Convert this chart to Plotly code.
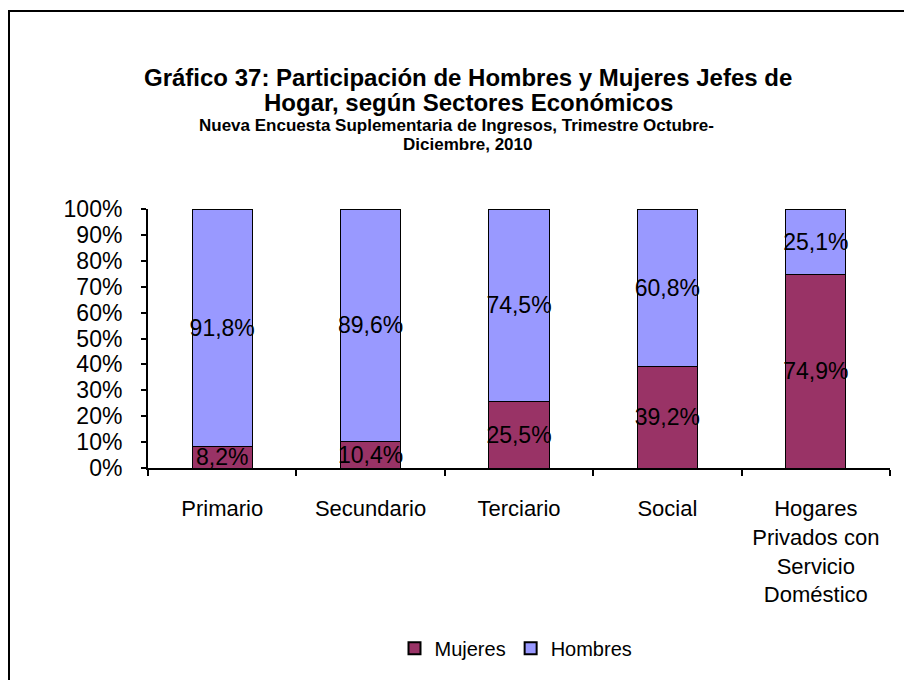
import plotly.graph_objects as go

# Economic sectors and share (%) of female / male heads of household
sectores = ["Primario", "Secundario", "Terciario", "Social",
            "Hogares<br>Privados con<br>Servicio<br>Doméstico"]
mujeres = [8.2, 10.4, 25.5, 39.2, 74.9]
hombres = [91.8, 89.6, 74.5, 60.8, 25.1]
y_ticks = list(range(0, 101, 10))
y_tick_labels = [f"{v}%" for v in y_ticks]

W, H = 904, 680
L, R, T, B = 148, 14, 209, 208
PW, PH = W - L - R, H - T - B

def px(x):
    return (x - L) / PW

def py(y):
    return (H - B - y) / PH

FONT = "Liberation Sans, Arial, sans-serif"

fig = go.Figure()
for name, vals, color in [("Mujeres", mujeres, "#993366"),
                          ("Hombres", hombres, "#9999FF")]:
    fig.add_trace(go.Bar(
        name=name, x=sectores, y=vals,
        marker=dict(color=color, line=dict(color="#000000", width=1)),
        text=vals, texttemplate="%{text:.1f}%",
        textposition="inside", insidetextanchor="middle", textangle=0,
        textfont=dict(family=FONT, size=23, color="#000000"),
        cliponaxis=False,
    ))

fig.update_layout(
    width=W, height=H,
    margin=dict(l=L, r=R, t=T, b=B),
    barmode="stack", bargap=0.595,
    separators=",.",
    paper_bgcolor="white", plot_bgcolor="white",
    font=dict(family=FONT, color="#000000"),
    uniformtext=dict(minsize=23, mode="show"),
    showlegend=True,
    legend=dict(orientation="h", x=px(516), y=py(655),
                xanchor="center", yanchor="middle",
                font=dict(family=FONT, size=20, color="#000000"),
                itemsizing="constant", traceorder="normal"),
)

fig.update_xaxes(
    type="category", tickson="boundaries",
    ticks="outside", ticklen=6, tickwidth=1.5, tickcolor="#000000",
    showline=True, linecolor="#000000", linewidth=2,
    showgrid=False, ticklabelstandoff=20,
    tickfont=dict(family=FONT, size=22, color="#000000"),
)
fig.update_yaxes(
    range=[0, 100], tickmode="array", tickvals=y_ticks, ticktext=y_tick_labels,
    ticks="outside", ticklen=5, tickwidth=1.5, tickcolor="#000000",
    showline=True, linecolor="#000000", linewidth=2,
    showgrid=False, zeroline=False, ticklabelstandoff=14,
    tickfont=dict(family=FONT, size=23, color="#000000"),
)

# Title block
titles = [
    ("Gráfico 37: Participación de Hombres y Mujeres Jefes de", 468, 75, 24),
    ("Hogar, según Sectores Económicos", 468, 101, 24),
    ("Nueva Encuesta Suplementaria de Ingresos, Trimestre Octubre-", 456, 124, 17),
    ("Diciembre, 2010", 467, 144, 17),
]
for txt, cx, cy, size in titles:
    fig.add_annotation(
        text=f"<b>{txt}</b>", xref="paper", yref="paper",
        x=px(cx), y=py(cy), xanchor="center", yanchor="middle",
        showarrow=False, font=dict(family=FONT, size=size, color="#000000"),
    )

# Chart frame
fig.add_shape(type="rect", xref="paper", yref="paper",
              x0=px(9), x1=px(W + 10), y0=py(H + 10), y1=py(8),
              line=dict(color="#000000", width=2), fillcolor="rgba(0,0,0,0)",
              layer="below")

fig.write_html("out.html")
